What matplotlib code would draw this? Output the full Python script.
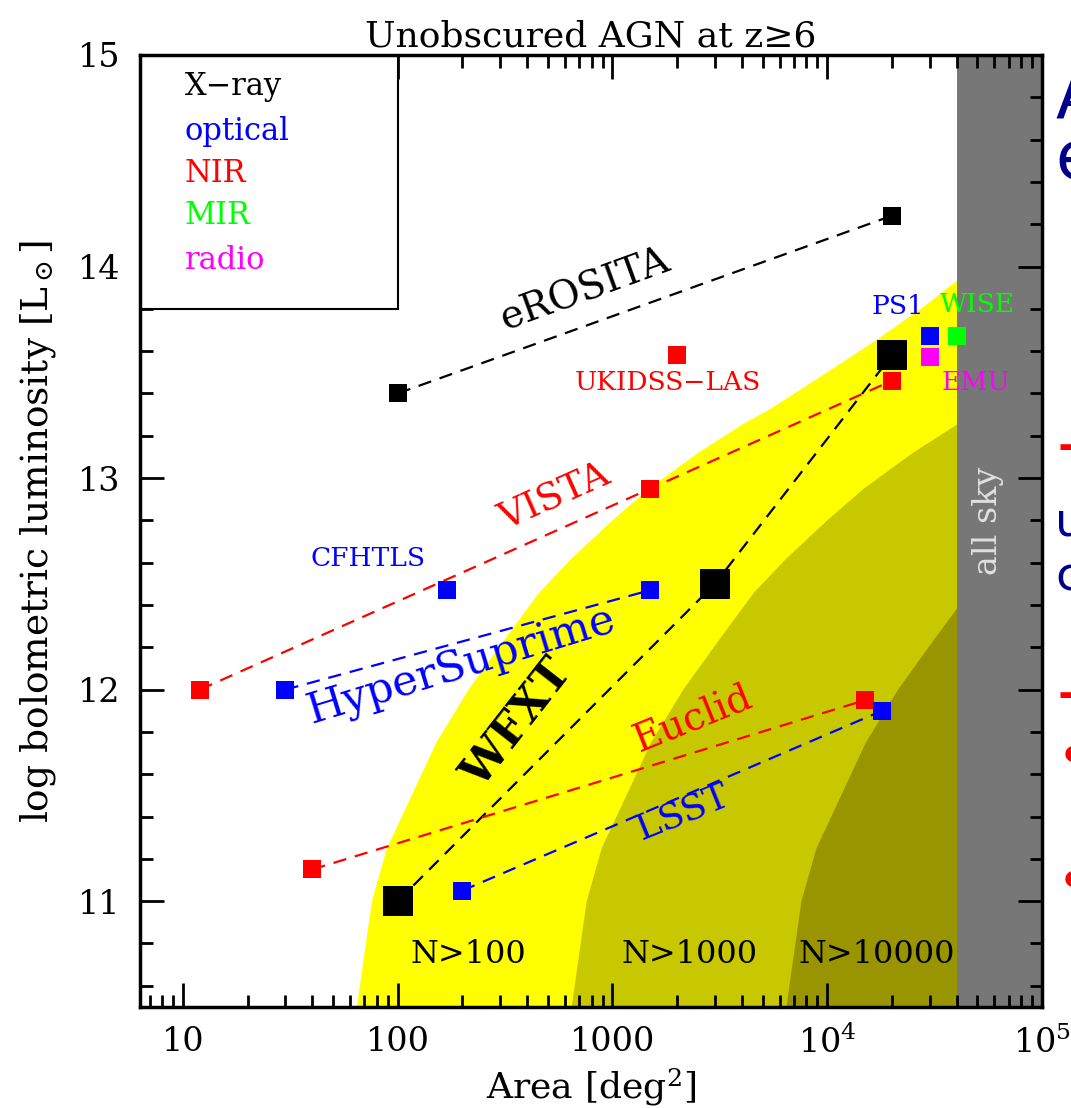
import numpy as np
import matplotlib
matplotlib.use("Agg")
import matplotlib.pyplot as plt
from matplotlib.ticker import FixedLocator, FixedFormatter, MultipleLocator, LogLocator, NullFormatter

plt.rcParams['font.family'] = ['DejaVu Serif']
plt.rcParams['mathtext.fontset'] = 'dejavuserif'

# survey points: (area [deg^2], log L_bol)
erosita_area = [100, 20000]
erosita_lum = [13.40, 14.24]
wfxt_area = [100, 3000, 20000]
wfxt_lum = [11.0, 12.5, 13.58]
vista_area = [12, 1500, 20000]
vista_lum = [12.0, 12.95, 13.46]
euclid_area = [40, 15000]
euclid_lum = [11.15, 11.95]
hsc_area = [30, 1500]
hsc_lum = [12.0, 12.47]
lsst_area = [200, 18000]
lsst_lum = [11.05, 11.90]
ukidss = (2000, 13.58)
cfhtls = (170, 12.47)
ps1 = (30000, 13.67)
wise = (40000, 13.67)
emu = (30000, 13.57)

# N>100 contour (log area, log L); N>1000 and N>10000 are shifted by 1 and 2 dex
bnd_logA = np.array([1.81, 1.88, 1.95, 2.18, 2.33, 2.50, 2.66, 2.81, 3.00, 3.17, 3.40, 3.60, 3.74, 4.00, 4.24, 4.45, 4.60])
bnd_lum = np.array([10.5, 11.0, 11.25, 11.75, 12.0, 12.24, 12.46, 12.62, 12.80, 12.95, 13.12, 13.25, 13.33, 13.50, 13.66, 13.81, 13.93])
shade_shift = [0, 1, 2]
shade_colors = ['#ffff00', '#c8c800', '#999500']
shade_labels = ['N>100', 'N>1000', 'N>10000']
shade_label_logA = [2.33, 3.36, 4.23]
allsky_area = 4e4

xtick_vals = [10, 100, 1000, 1e4, 1e5]
xtick_text = ['10', '100', '1000', r'10$^4$', r'10$^5$']
ytick_vals = [11, 12, 13, 14, 15]

fig = plt.figure(figsize=(10.71, 11.08), dpi=100)
ax = fig.add_axes([0.1307, 0.0912, 0.8422, 0.8592])
ax.set_xscale('log')
ax.set_xlim(10**0.8, 1e5)
ax.set_ylim(10.5, 15)

for s, c in zip(shade_shift, shade_colors):
    px = np.concatenate([10**(bnd_logA + s), [1e8, 1e8]])
    py = np.concatenate([bnd_lum, [bnd_lum[-1], 10.5]])
    ax.fill(px, py, color=c, lw=0, zorder=0)
ax.axvspan(allsky_area, 1e5, color='#777777', lw=0, zorder=1)

for t, la in zip(shade_labels, shade_label_logA):
    ax.text(10**la, 10.75, t, fontsize=23, ha='center', va='center', color='black', zorder=3)
ax.text(10**4.75, 12.80, 'all sky', fontsize=24, rotation=90, ha='center', va='center',
        color='#e0e0e0', zorder=3)

dash = dict(ls='--', dashes=(6, 4), lw=1.6, zorder=4)
ax.plot(erosita_area, erosita_lum, color='black', **dash)
ax.plot(wfxt_area, wfxt_lum, color='black', **dash)
ax.plot(vista_area, vista_lum, color='red', **dash)
ax.plot(euclid_area, euclid_lum, color='red', **dash)
ax.plot(hsc_area, hsc_lum, color='blue', **dash)
ax.plot(lsst_area, lsst_lum, color='blue', **dash)

sq = dict(marker='s', ls='none', zorder=5, mew=0)
ax.plot(erosita_area, erosita_lum, color='black', ms=13, **sq)
ax.plot(wfxt_area, wfxt_lum, color='black', ms=22, **sq)
ax.plot(vista_area, vista_lum, color='red', ms=13, **sq)
ax.plot(euclid_area, euclid_lum, color='red', ms=13, **sq)
ax.plot(hsc_area, hsc_lum, color='blue', ms=13, **sq)
ax.plot(lsst_area, lsst_lum, color='blue', ms=13, **sq)
ax.plot(*ukidss, color='red', ms=13, **sq)
ax.plot(*cfhtls, color='blue', ms=13, **sq)
ax.plot(*ps1, color='blue', ms=13, **sq)
ax.plot(*wise, color='#00ff00', ms=13, **sq)
ax.plot(*emu, color='#ff00ff', ms=13, **sq)

lab = dict(ha='center', va='center', rotation_mode='anchor', zorder=6)
ax.text(10**2.87, 13.89, 'eROSITA', fontsize=28, rotation=20, color='black', **lab)
ax.text(10**2.73, 12.91, 'VISTA', fontsize=27, rotation=24, color='red', **lab)
ax.text(10**1.86, 12.62, 'CFHTLS', fontsize=19, color='blue', **lab)
ax.text(10**2.30, 12.11, 'HyperSuprime', fontsize=31, rotation=17, color='blue', **lab)
ax.text(10**2.56, 11.84, 'WFXT', fontsize=32, rotation=52, color='black', fontweight='bold', **lab)
ax.text(10**3.38, 11.86, 'Euclid', fontsize=28, rotation=22, color='red', **lab)
ax.text(10**3.33, 11.42, 'LSST', fontsize=26, rotation=22, color='blue', **lab)
ax.text(10**3.26, 13.45, 'UKIDSS\u2212LAS', fontsize=19, color='red', **lab)
ax.text(10**4.33, 13.81, 'PS1', fontsize=19, color='blue', **lab)
ax.text(10**4.70, 13.82, 'WISE', fontsize=19, color='#00ff00', **lab)
ax.text(10**4.69, 13.45, 'EMU', fontsize=19, color='#ff00ff', **lab)

# legend box
ax.fill([10**0.8, 100, 100, 10**0.8], [13.8, 13.8, 15, 15], facecolor='white',
        edgecolor='black', lw=1.5, zorder=7)
leg_names = ['X\u2212ray', 'optical', 'NIR', 'MIR', 'radio']
leg_colors = ['black', 'blue', 'red', '#00ff00', '#ff00ff']
leg_y = [14.85, 14.64, 14.44, 14.24, 14.03]
for n, c, y in zip(leg_names, leg_colors, leg_y):
    ax.text(10.2, y, n, fontsize=22, color=c, ha='left', va='center', zorder=8)

ax.xaxis.set_major_locator(FixedLocator(xtick_vals))
ax.xaxis.set_major_formatter(FixedFormatter(xtick_text))
ax.xaxis.set_minor_locator(LogLocator(base=10, subs=np.arange(2, 10), numticks=20))
ax.xaxis.set_minor_formatter(NullFormatter())
ax.yaxis.set_major_locator(FixedLocator(ytick_vals))
ax.yaxis.set_minor_locator(MultipleLocator(0.2))
ax.tick_params(which='both', direction='in', top=True, right=True, width=2, colors='black',
               labelsize=24, pad=14)
ax.tick_params(which='major', length=17)
ax.tick_params(which='minor', length=9)
for sp in ax.spines.values():
    sp.set_linewidth(2.5)
    sp.set_zorder(10)

ax.set_title('Unobscured AGN at z\u22656', fontsize=26, pad=6)
ax.set_xlabel(r'Area [deg$^2$]', fontsize=26, labelpad=4)
ax.set_ylabel(r'log bolometric luminosity [L$_\odot$]', fontsize=27, labelpad=14)

# pieces of the slide text cut off at the right edge
slide = dict(family=['DejaVu Sans'], ha='left', va='center')
fig.text(1055 / 1071, 1 - 100 / 1108, 'A', fontsize=48, color='#00008b', **slide)
fig.text(1055 / 1071, 1 - 160 / 1108, 'e', fontsize=48, color='#00008b', **slide)
fig.text(1057 / 1071, 1 - 448 / 1108, '\u2012', fontsize=34, color='red', fontweight='bold', **slide)
fig.text(1055 / 1071, 1 - 523 / 1108, 'u', fontsize=34, color='#00008b', **slide)
fig.text(1055 / 1071, 1 - 578 / 1108, 'c', fontsize=34, color='#00008b', **slide)
fig.text(1057 / 1071, 1 - 695 / 1108, '\u2012', fontsize=34, color='red', fontweight='bold', **slide)
fig.text(1057 / 1071, 1 - 760 / 1108, '\u2022', fontsize=40, color='red', **slide)
fig.text(1057 / 1071, 1 - 885 / 1108, '\u2022', fontsize=40, color='red', **slide)

fig.savefig('out.png', dpi=100)
